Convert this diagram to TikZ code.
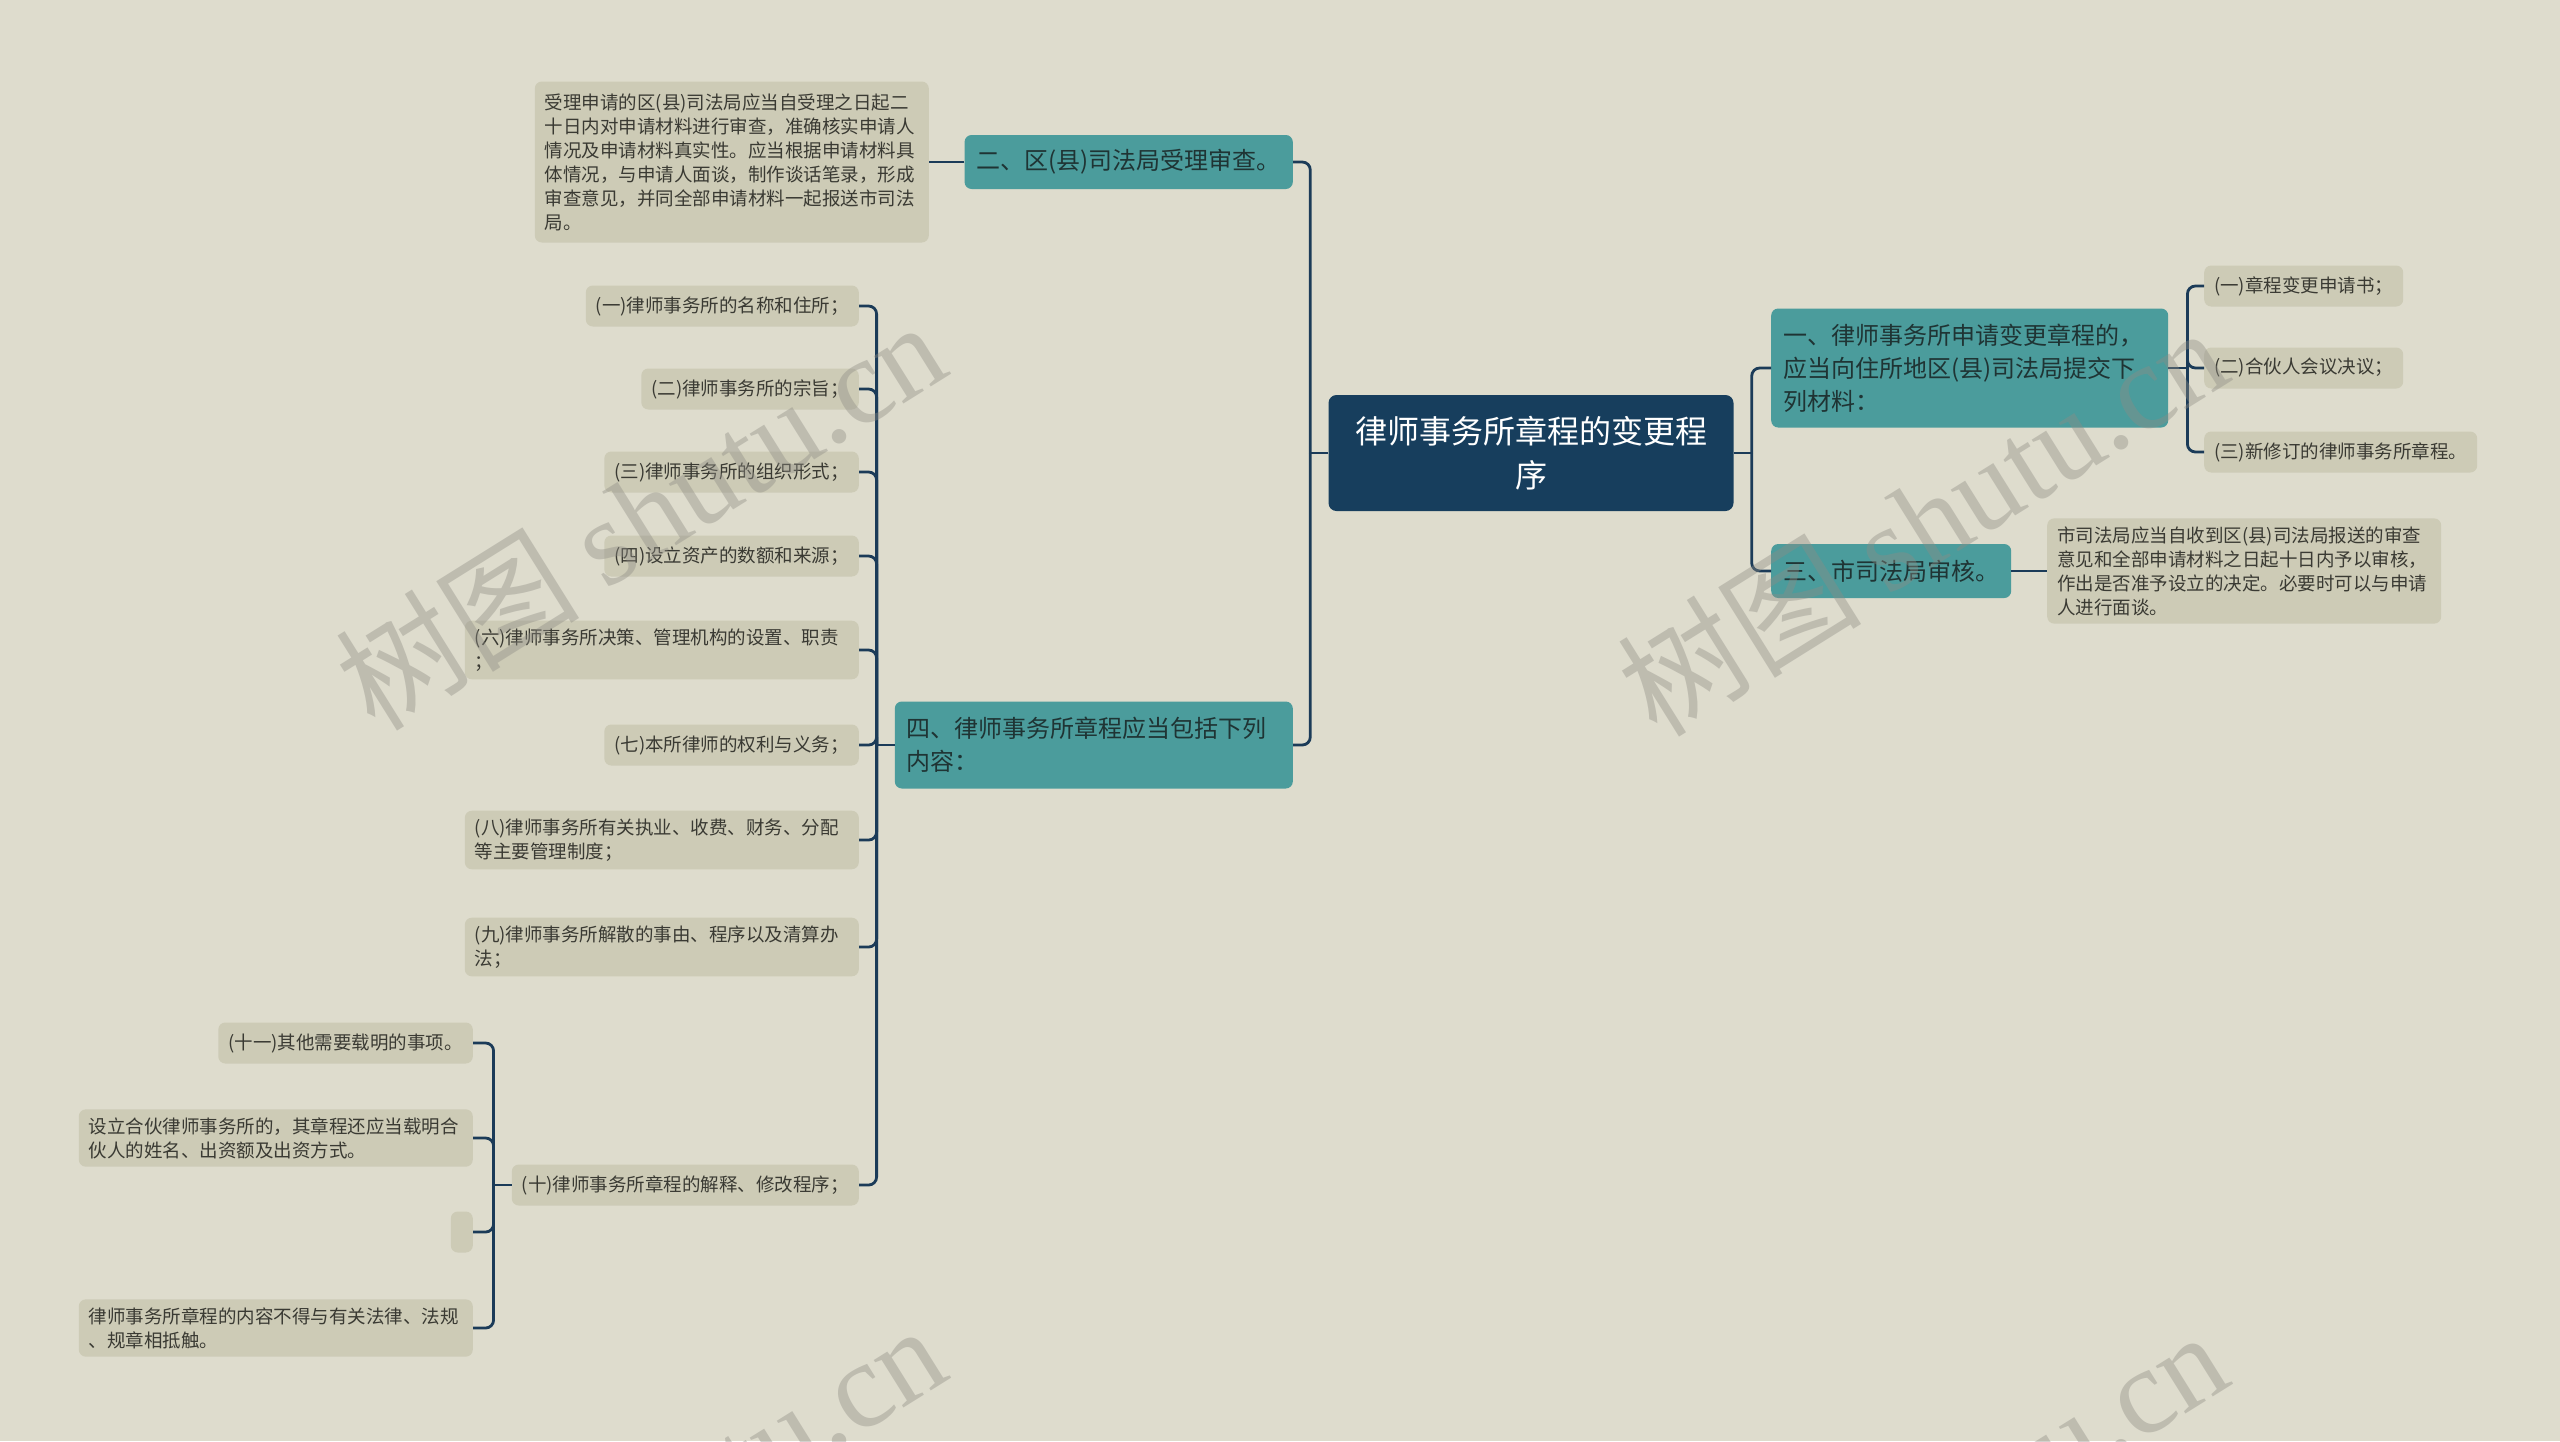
\documentclass[tikz,border=0pt]{standalone}
\usepackage{fontspec}
\setmainfont{Noto Sans CJK SC}
\newfontfamily\wmlatin{Liberation Serif}
\definecolor{paper}{HTML}{DEDCCD}
\definecolor{leafc}{HTML}{CDCBB6}
\definecolor{tealc}{HTML}{4B9C9C}
\definecolor{navy}{HTML}{173E5D}
\definecolor{linkc}{HTML}{1B3B58}
\definecolor{leaftxt}{HTML}{3A3A33}
\definecolor{tealtxt}{HTML}{1F3434}
\definecolor{wmc}{HTML}{8E8C84}
\tikzset{
  leaf/.style={fill=leafc, rounded corners=7, inner xsep=10, inner ysep=8, minimum height=41,
    text=leaftxt, align=left, font=\fontsize{18.5}{24}\selectfont},
  wrap/.style={leaf, text width=374},
  branch/.style={fill=tealc, rounded corners=7, inner xsep=12, inner ysep=10, minimum height=54,
    text=tealtxt, align=left, font=\fontsize{24}{33}\selectfont},
  rootbox/.style={fill=navy, rounded corners=8, minimum width=405, minimum height=116,
    text=white, align=center, font=\fontsize{32}{44}\selectfont},
  link/.style={draw=linkc, line width=2.8, rounded corners=8},
  wmark/.style={text=wmc, text opacity=0.4, rotate=32, font=\fontsize{122}{122}\selectfont}
}

\begin{document}
\begin{tikzpicture}[x=1pt, y=-1pt]
  \useasboundingbox (0,0) rectangle (2560,1441);
  \fill[paper] (0,0) rectangle (2560,1441);

  \node[rootbox] (root) at (1531,453) {律师事务所章程的变更程\\序};

  \node[branch, anchor=west, text width=373, minimum height=119] (s1) at (1771,368) {一、律师事务所申请变更章程的，\\应当向住所地区(县)司法局提交下\\列材料：};
  \node[branch, anchor=west] (s3) at (1771,571) {三、市司法局审核。};
  \node[branch, anchor=east] (s2) at (1293,162) {二、区(县)司法局受理审查。};
  \node[branch, anchor=east, text width=374, minimum height=87] (s4) at (1293,745) {四、律师事务所章程应当包括下列\\内容：};

  \node[leaf, anchor=west] (r1) at (2204,286) {(一)章程变更申请书；};
  \node[leaf, anchor=west] (r2) at (2204,368) {(二)合伙人会议决议；};
  \node[leaf, anchor=west] (r3) at (2204,452) {(三)新修订的律师事务所章程。};
  \node[wrap, anchor=west] (n3) at (2047,571) {市司法局应当自收到区(县)司法局报送的审查\\意见和全部申请材料之日起十日内予以审核，\\作出是否准予设立的决定。必要时可以与申请\\人进行面谈。};
  \node[wrap, anchor=east, minimum height=161] (n2) at (929,162) {受理申请的区(县)司法局应当自受理之日起二\\十日内对申请材料进行审查，准确核实申请人\\情况及申请材料真实性。应当根据申请材料具\\体情况，与申请人面谈，制作谈话笔录，形成\\审查意见，并同全部申请材料一起报送市司法\\局。};

  \node[leaf, anchor=east] (a1) at (859,306) {(一)律师事务所的名称和住所；};
  \node[leaf, anchor=east] (a2) at (859,389) {(二)律师事务所的宗旨；};
  \node[leaf, anchor=east] (a3) at (859,472) {(三)律师事务所的组织形式；};
  \node[leaf, anchor=east] (a4) at (859,556) {(四)设立资产的数额和来源；};
  \node[wrap, anchor=east] (a5) at (859,650) {(六)律师事务所决策、管理机构的设置、职责\\；};
  \node[leaf, anchor=east] (a6) at (859,745) {(七)本所律师的权利与义务；};
  \node[wrap, anchor=east] (a7) at (859,840) {(八)律师事务所有关执业、收费、财务、分配\\等主要管理制度；};
  \node[wrap, anchor=east] (a8) at (859,947) {(九)律师事务所解散的事由、程序以及清算办\\法；};
  \node[leaf, anchor=east] (a9) at (859,1185) {(十)律师事务所章程的解释、修改程序；};

  \node[leaf, anchor=east] (c1) at (473,1043) {(十一)其他需要载明的事项。};
  \node[wrap, anchor=east] (c2) at (473,1138) {设立合伙律师事务所的，其章程还应当载明合\\伙人的姓名、出资额及出资方式。};
  \node[leaf, anchor=east, minimum width=22, inner sep=0] (c3) at (473,1232) {};
  \node[wrap, anchor=east] (c4) at (473,1328) {律师事务所章程的内容不得与有关法律、法规\\、规章相抵触。};

  \draw[link] (root.east) -- ++(18,0);
  \foreach \n in {s1,s3} \draw[link] (root.east) ++(18,0) |- (\n.west);
  \draw[link] (root.west) -- ++(-18,0);
  \foreach \n in {s2,s4} \draw[link] (root.west) ++(-18,0) |- (\n.east);
  \draw[link] (s1.east) -- ++(19,0);
  \foreach \n in {r1,r2,r3} \draw[link] (s1.east) ++(19,0) |- (\n.west);
  \draw[link] (s3.east) -- (n3.west);
  \draw[link] (s2.west) -- (n2.east);
  \draw[link] (s4.west) -- ++(-18,0);
  \foreach \n in {a1,a2,a3,a4,a5,a6,a7,a8,a9} \draw[link] (s4.west) ++(-18,0) |- (\n.east);
  \draw[link] (a9.west) -- ++(-18,0);
  \foreach \n in {c1,c2,c3,c4} \draw[link] (a9.west) ++(-18,0) |- (\n.east);

  \begin{scope}
    \clip (0,0) rectangle (2560,1441);
    \foreach \x/\y in {640/514, 1922/520, 640/1518, 1922/1524}
      \node[wmark] (wm) at (\x,\y) {树图 {\wmlatin shutu.cn}};
  \end{scope}
\end{tikzpicture}
\end{document}
